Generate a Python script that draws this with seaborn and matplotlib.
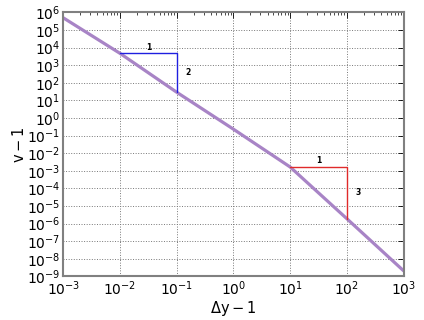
import numpy as np
import matplotlib
matplotlib.use("Agg")
import matplotlib.pyplot as plt
import matplotlib.ticker as mticker
import seaborn as sns

# data (log10 values)
log_dy = [-3, -2, -1, 0, 1, 2, 3]
log_v = [5.7, 3.68, 1.47, -0.63, -2.78, -5.72, -8.68]

# slope triangles: (x0, x1) on the horizontal leg, label for run and rise
tri_blue_x = [1e-2, 1e-1]
tri_blue_lab = ["1", "2"]
tri_red_x = [1e1, 1e2]
tri_red_lab = ["1", "3"]

y_exps = list(range(-9, 7))
x_exps = list(range(-3, 4))

dy = [10.0 ** e for e in log_dy]
v = [10.0 ** e for e in log_v]

sns.set_style("white")
plt.rcParams['font.family'] = ['DejaVu Sans']
plt.rcParams['mathtext.default'] = 'regular'
plt.rcParams['text.color'] = 'black'
plt.rcParams['axes.labelcolor'] = 'black'
plt.rcParams['xtick.color'] = 'black'
plt.rcParams['ytick.color'] = 'black'

fig = plt.figure(figsize=(4.24, 3.2), dpi=100)
ax = fig.add_axes([0.149, 0.136, 0.803, 0.825])

sns.lineplot(x=dy, y=v, ax=ax, color='#a884c6', lw=2.3, sort=False)

ax.set_xscale('log')
ax.set_yscale('log')
ax.set_xlim(1e-3, 1e3)
ax.set_ylim(1e-9, 1e6)


def line_at(x):
    return 10 ** np.interp(np.log10(x), log_dy, log_v)


def triangle(xs, labs, color):
    x0, x1 = xs
    y0 = line_at(x0)
    y1 = line_at(x1)
    ax.plot([x0, x1, x1], [y0, y0, y1], color=color, lw=1.0)
    xm = 10 ** ((np.log10(x0) + np.log10(x1)) / 2)
    ym = 10 ** ((np.log10(y0) + np.log10(y1)) / 2)
    ax.text(xm, y0 * 1.25, labs[0], ha='center', va='bottom', fontsize=5.5, fontweight='bold')
    ax.text(x1 * 1.4, ym, labs[1], ha='left', va='center', fontsize=5.5, fontweight='bold')


triangle(tri_blue_x, tri_blue_lab, '#1f1fe0')
triangle(tri_red_x, tri_red_lab, '#e02a2a')

ax.xaxis.set_major_locator(mticker.FixedLocator([10.0 ** e for e in x_exps]))
ax.yaxis.set_major_locator(mticker.FixedLocator([10.0 ** e for e in y_exps]))
ax.xaxis.set_major_formatter(mticker.LogFormatterSciNotation())
ax.yaxis.set_major_formatter(mticker.LogFormatterSciNotation())
ax.xaxis.set_minor_locator(mticker.LogLocator(base=10, subs=np.arange(2, 10), numticks=20))
ax.yaxis.set_minor_locator(mticker.NullLocator())

ax.grid(True, which='major', ls=':', color='#777777', lw=0.7)
ax.tick_params(which='both', direction='in', top=True, right=True, labelsize=10, pad=2)
ax.tick_params(which='major', length=4, width=0.6)
ax.tick_params(which='minor', length=2, width=0.5)
for s in ax.spines.values():
    s.set_color('#808080')
    s.set_linewidth(1.5)

ax.set_xlabel(r'$\mathrm{\Delta y-1}$', fontsize=10.5, labelpad=1)
ax.set_ylabel(r'$\mathrm{v-1}$', fontsize=10.5, labelpad=0)

fig.savefig('out.png', dpi=100)
